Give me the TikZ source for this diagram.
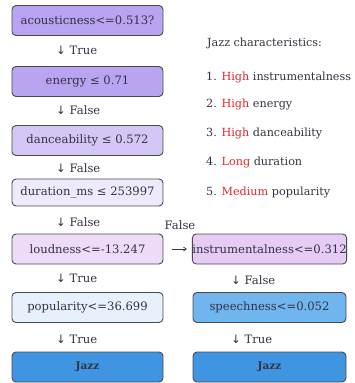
\documentclass[tikz,border=0pt]{standalone}
\usepackage{fontspec}
\setmainfont{DejaVu Serif}
\newfontfamily\arrowfont{DejaVu Sans}
\usetikzlibrary{positioning,arrows.meta}

\definecolor{boxline}{HTML}{4A4A4A}
\definecolor{txtgray}{HTML}{333340}
\definecolor{hipurple}{HTML}{B8A4F1}
\definecolor{midpurple}{HTML}{D4C7F6}
\definecolor{lavender}{HTML}{EEEAFB}
\definecolor{orchid}{HTML}{E6CCF5}
\definecolor{paleblue}{HTML}{E6F1FC}
\definecolor{skyblue}{HTML}{70B5EE}
\definecolor{jazzblue}{HTML}{3F95E1}
\definecolor{hired}{HTML}{E0282E}

\newcommand{\dn}{{\arrowfont\symbol{"2193}}\ }

\begin{document}
\begin{tikzpicture}[x=1pt,y=-1pt,
    split/.style={draw=boxline,line width=0.9pt,rounded corners=4pt,
        minimum width=151pt,minimum height=30pt,inner sep=0pt,
        font=\fontsize{11.6}{13}\selectfont,text=txtgray},
    leaf/.style={split,fill=jazzblue,font=\fontsize{10.5}{12}\selectfont\bfseries},
    branch/.style={anchor=west,inner sep=0pt,text=txtgray,
        font=\fontsize{11.6}{13}\selectfont},
    legend/.style={anchor=west,inner sep=0pt,text=txtgray,
        font=\fontsize{11.2}{13}\selectfont}]
    \useasboundingbox (0,0) rectangle (355,383);

    % left branch
    \node[split,fill=hipurple] (acoustic) at (87.5,20.5) {acousticness<=0.513?};
    \node[split,fill=hipurple] (energy) at (87.5,81.5) {energy ≤ 0.71};
    \node[split,fill=midpurple] (dance) at (87.5,140.5) {danceability ≤ 0.572};
    \node[split,fill=lavender,minimum height=27pt] (duration) at (87.5,192.5) {duration\_ms ≤ 253997};
    \node[split,fill=orchid!70!white] (loud) at (87.5,249) {loudness<=-13.247};
    \node[split,fill=paleblue] (pop) at (87.5,307.5) {popularity<=36.699};
    \node[leaf] (jazzL) at (87.5,367) {Jazz};

    \node[branch] (b1) at (56,50) {\dn True};
    \node[branch] (b2) at (56,110) {\dn False};
    \node[branch] (b3) at (56,168) {\dn False};
    \node[branch] (b4) at (56,222) {\dn False};
    \node[branch] (b5) at (56,278) {\dn True};
    \node[branch] (b6) at (56,339) {\dn True};

    % right branch
    \node[split,fill=orchid,minimum width=153pt] (instr) at (269.5,249) {instrumentalness<=0.312};
    \node[split,fill=skyblue,minimum width=153pt] (speech) at (269.5,307.5) {speechness<=0.052};
    \node[leaf,minimum width=153pt] (jazzR) at (269.5,367) {Jazz};

    \node[branch] (b7) at (231,280) {\dn False};
    \node[branch] (b8) at (231,339) {\dn True};

    \draw[-{Straight Barb[length=3pt,width=4pt]},line width=0.6pt,txtgray,
        shorten <=9pt,shorten >=5pt] (loud) -- (instr);
    \node[branch,anchor=center] (bside) at (180,225) {False};

    % legend
    \node[legend] (ltitle) at (207,43) {Jazz characteristics:};
    \node[legend] (l1) at (206,77) {1. \textcolor{hired}{High} instrumentalness};
    \node[legend] (l2) at (206,104) {2. \textcolor{hired}{High} energy};
    \node[legend] (l3) at (206,133) {3. \textcolor{hired}{High} danceability};
    \node[legend] (l4) at (206,162) {4. \textcolor{hired}{Long} duration};
    \node[legend] (l5) at (206,192) {5. \textcolor{hired}{Medium} popularity};
\end{tikzpicture}
\end{document}
